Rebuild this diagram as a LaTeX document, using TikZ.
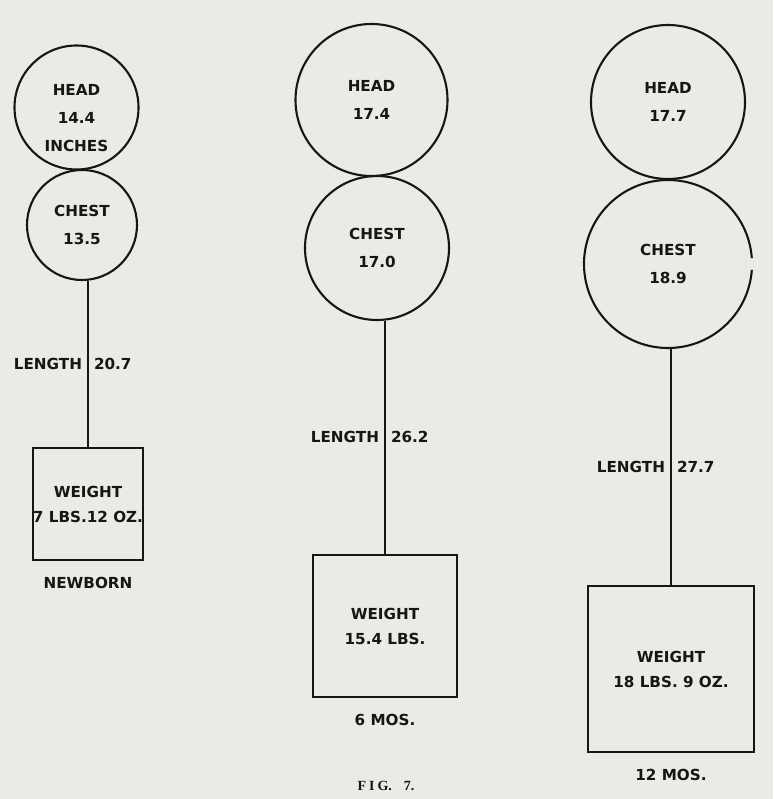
\documentclass[tikz,border=0pt]{standalone}
\usepackage{fontspec}
\setmainfont{Liberation Serif}
\newfontfamily\plateFont{DejaVu Sans}
\usetikzlibrary{positioning}
\definecolor{paper}{RGB}{234,234,231}
\definecolor{ink}{RGB}{22,22,22}
\newcommand{\circleText}[0]{\plateFont\bfseries\fontsize{15.2}{28}\selectfont}
\newcommand{\boxText}[0]{\plateFont\bfseries\fontsize{15.2}{25}\selectfont}
\newcommand{\figText}[0]{\bfseries\fontsize{14}{16}\selectfont}

\begin{document}
\begin{tikzpicture}[x=1pt, y=-1pt, color=ink, text=ink]
  \tikzset{part/.style={circle, draw, line width=2.1pt, inner sep=0pt, align=center, font=\circleText},
           wtbox/.style={rectangle, draw, line width=2.7pt, inner sep=0pt, align=center, font=\boxText},
           stem/.style={line width=2pt},
           lenlbl/.style={inner sep=5pt, font=\boxText},
           age/.style={inner sep=0pt, outer sep=0pt, font=\boxText}}
  \fill[paper] (0,0) rectangle (773,799);
  \useasboundingbox (0,0) rectangle (773,799);
  % newborn
  \node[part, minimum size=124pt,
        label={[name=head1txt, align=center, font=\circleText, yshift=-11pt]center:HEAD\\14.4\\INCHES}]
        (head1) at (76.5,107.5) {};
  \node[part, minimum size=110pt] (chest1) at (82,225) {CHEST\\13.5};
  \node[wtbox, minimum width=110pt, minimum height=112pt] (wt1) at (88,504) {WEIGHT\\7 LBS.12 OZ.};
  \node[age, below=16pt of wt1] (age1) {NEWBORN};
  \draw[stem] (wt1.north) -- node[lenlbl, left]{LENGTH} node[lenlbl, right]{20.7} (wt1.north |- chest1.south);
  % 6 months
  \node[part, minimum size=152pt] (head2) at (371.5,100) {HEAD\\17.4};
  \node[part, minimum size=144pt] (chest2) at (377,248) {CHEST\\17.0};
  \node[wtbox, minimum width=144pt, minimum height=142pt] (wt2) at (385,626) {WEIGHT\\15.4 LBS.};
  \node[age, below=16pt of wt2] (age2) {6 MOS.};
  \draw[stem] (wt2.north) -- node[lenlbl, left]{LENGTH} node[lenlbl, right]{26.2} (wt2.north |- chest2.south);
  % 12 months
  \node[part, minimum size=154pt] (head3) at (668,102) {HEAD\\17.7};
  \node[part, draw=none, minimum size=168pt] (chest3) at (668,264) {CHEST\\18.9};
  \draw[line width=2.1pt] ([shift={(4:84pt)}]chest3.center) arc[start angle=4, end angle=356, radius=84pt];
  \node[wtbox, minimum width=166pt, minimum height=166pt] (wt3) at (671,669) {WEIGHT\\18 LBS. 9 OZ.};
  \node[age, below=16pt of wt3] (age3) {12 MOS.};
  \draw[stem] (wt3.north) -- node[lenlbl, left]{LENGTH} node[lenlbl, right]{27.7} (wt3.north |- chest3.south);
  \node[inner sep=0pt, font=\figText] (fig) at (386,786) {F\kern3ptI\kern3ptG.\kern12pt7.};
\end{tikzpicture}
\end{document}
